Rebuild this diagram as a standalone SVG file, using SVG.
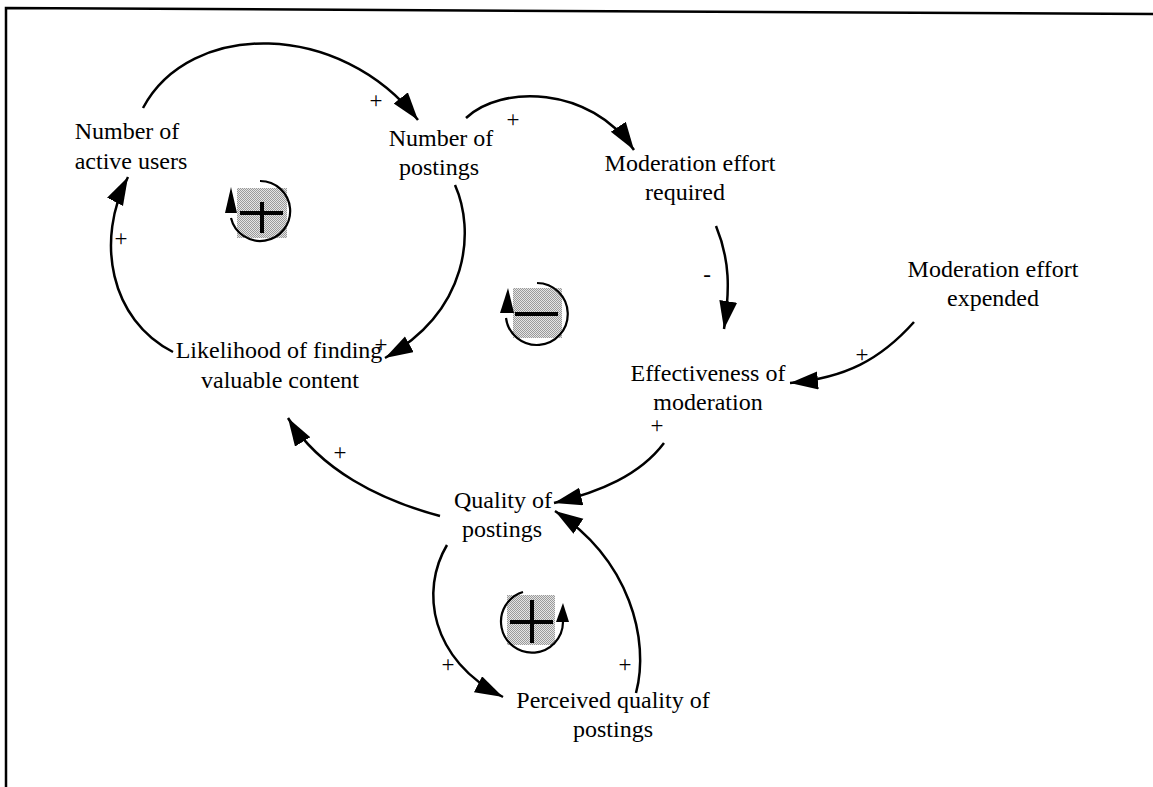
<svg xmlns="http://www.w3.org/2000/svg" width="1153" height="787" viewBox="0 0 1153 787">
<defs>
<style>
text{font-family:"Liberation Serif","Times New Roman",serif;fill:#000}
.lbl{font-size:24px;text-anchor:middle}
.pol{font-size:23px;text-anchor:middle}
.con{fill:none;stroke:#000;stroke-width:2.5}
.loop{fill:none;stroke:#000;stroke-width:2.2}
.sq{fill:url(#dots)}
.bar{stroke:#000;stroke-width:4;fill:none}
</style>
<pattern id="dots" width="2" height="2" patternUnits="userSpaceOnUse">
<rect width="2" height="2" fill="#e4e4e4"/>
<rect width="1" height="1" fill="#9a9a9a"/>
<rect x="1" y="1" width="1" height="1" fill="#9a9a9a"/>
</pattern>
<marker id="ah" markerUnits="userSpaceOnUse" markerWidth="32" markerHeight="22" refX="28" refY="9" orient="auto">
<path d="M0,0 L28,9 L0,18 z" fill="#000"/>
</marker>
</defs>
<rect width="1153" height="787" fill="#fff"/>
<polyline points="6,787 6,8 1153,14" fill="none" stroke="#000" stroke-width="2.5"/>

<g id="connectors">
<path class="con" d="M143,108 C190,20 340,20 418,120" marker-end="url(#ah)"/>
<path class="con" d="M466,118 C500,85 590,85 634,150" marker-end="url(#ah)"/>
<path class="con" d="M455,185 C475,230 470,310 385,358" marker-end="url(#ah)"/>
<path class="con" d="M173,352 C110,320 95,240 128,177" marker-end="url(#ah)"/>
<path class="con" d="M716,226 C730,260 730,290 724,329" marker-end="url(#ah)"/>
<path class="con" d="M914,322 C880,360 845,378 790,383" marker-end="url(#ah)"/>
<path class="con" d="M664,443 C640,475 600,492 554,503" marker-end="url(#ah)"/>
<path class="con" d="M440,516 C380,500 320,470 288,418" marker-end="url(#ah)"/>
<path class="con" d="M447,545 C420,590 430,660 503,697" marker-end="url(#ah)"/>
<path class="con" d="M636,693 C650,640 630,560 555,511" marker-end="url(#ah)"/>
</g>

<g id="n-active-users"><text class="lbl" x="127" y="139">Number of</text><text class="lbl" x="131" y="169">active users</text></g>
<g id="n-postings"><text class="lbl" x="441" y="146">Number of</text><text class="lbl" x="439" y="175">postings</text></g>
<g id="n-mod-required"><text class="lbl" x="690" y="171">Moderation effort</text><text class="lbl" x="685" y="200">required</text></g>
<g id="n-mod-expended"><text class="lbl" x="993" y="277">Moderation effort</text><text class="lbl" x="993" y="306">expended</text></g>
<g id="n-likelihood"><text class="lbl" x="279" y="358">Likelihood of finding</text><text class="lbl" x="280" y="388">valuable content</text></g>
<g id="n-effectiveness"><text class="lbl" x="708" y="381">Effectiveness of</text><text class="lbl" x="708" y="410">moderation</text></g>
<g id="n-quality"><text class="lbl" x="503" y="508">Quality of</text><text class="lbl" x="502" y="537">postings</text></g>
<g id="n-perceived"><text class="lbl" x="613" y="708">Perceived quality of</text><text class="lbl" x="613" y="737">postings</text></g>

<g id="polarities">
<text class="pol" x="376" y="108">+</text>
<text class="pol" x="513" y="127">+</text>
<text class="pol" x="121" y="246">+</text>
<text class="pol" x="381" y="352">+</text>
<text class="pol" x="707" y="282">-</text>
<text class="pol" x="862" y="362">+</text>
<text class="pol" x="657" y="433">+</text>
<text class="pol" x="340" y="460">+</text>
<text class="pol" x="448" y="672">+</text>
<text class="pol" x="625" y="672">+</text>
</g>

<g id="loop-r1">
<rect class="sq" x="237" y="188" width="50" height="50"/>
<path class="loop" d="M260,181 A30,30 0 1,1 231,218"/>
<path d="M231,187 L237,213 L225,213 z" fill="#000"/>
<line class="bar" x1="240" y1="213" x2="283" y2="213"/>
<line class="bar" x1="262" y1="202" x2="262" y2="233"/>
</g>
<g id="loop-b">
<rect class="sq" x="513" y="288" width="49" height="50"/>
<path class="loop" d="M537,283 A31,31 0 1,1 506,318"/>
<path d="M508,288 L514,313 L500,313 z" fill="#000"/>
<line class="bar" x1="515" y1="314" x2="558" y2="314"/>
</g>
<g id="loop-r2">
<rect class="sq" x="507" y="595" width="48" height="50"/>
<path class="loop" d="M523,592 A31,31 0 1,0 563,622"/>
<path d="M563,603 L569,622 L556,622 z" fill="#000"/>
<line class="bar" x1="510" y1="622" x2="553" y2="622"/>
<line class="bar" x1="532" y1="600" x2="532" y2="643"/>
</g>
</svg>
